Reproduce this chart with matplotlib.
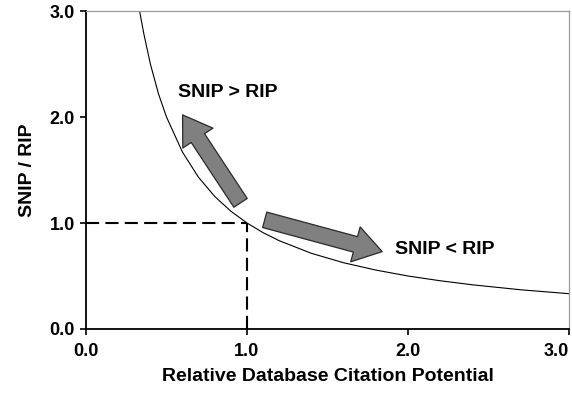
import matplotlib.pyplot as plt
from matplotlib.patches import FancyArrowPatch

plt.rcParams['font.family'] = ['Liberation Sans', 'DejaVu Sans']

# curve values (SNIP / RIP vs. citation potential)
curve_x = [0.333, 0.36, 0.4, 0.45, 0.5, 0.6, 0.7, 0.8, 0.9, 1.0, 1.1, 1.2, 1.4, 1.6, 1.8, 2.0, 2.2, 2.4, 2.7, 3.0]
curve_y = [3.0, 2.78, 2.5, 2.22, 2.0, 1.667, 1.429, 1.25, 1.111, 1.0, 0.909, 0.833, 0.714, 0.625, 0.556, 0.5, 0.455, 0.417, 0.37, 0.333]

ticks = [0.0, 1.0, 2.0, 3.0]
tick_labels = ['0.0', '1.0', '2.0', '3.0']

# arrows: (tail, tip) in data units
arrows = [((0.96, 1.19), (0.60, 2.02)), ((1.11, 1.03), (1.84, 0.73))]

fig = plt.figure(figsize=(5.72, 3.96), dpi=100)
ax = fig.add_axes([0.1503, 0.1692, 0.8445, 0.803])

ax.plot(curve_x, curve_y, color='black', lw=0.8)

# dashed reference lines at (1, 1)
ax.plot([0, 1], [1, 1], color='black', lw=1.5, dashes=(6.3, 3))
ax.plot([1, 1], [0, 1], color='black', lw=1.5, dashes=(6.3, 3))

# block arrows
arrow_style = 'simple,head_length=2.0,head_width=2.6,tail_width=1.15'
for start, end in arrows:
    arr = FancyArrowPatch(start, end, arrowstyle=arrow_style, mutation_scale=10,
                          facecolor='#808080', edgecolor='#2a2a2a', lw=0.9,
                          shrinkA=0, shrinkB=0)
    ax.add_patch(arr)

ax.text(0.88, 2.23, 'SNIP > RIP', fontsize=14, fontweight='bold', ha='center', va='center')
ax.text(1.92, 0.75, 'SNIP < RIP', fontsize=14, fontweight='bold', ha='left', va='center')

ax.set_xlim(0, 3)
ax.set_ylim(0, 3)
ax.set_xticks(ticks)
ax.set_xticklabels(tick_labels, fontsize=13, fontweight='bold')
ax.set_yticks(ticks)
ax.set_yticklabels(tick_labels, fontsize=13, fontweight='bold')
ax.tick_params(direction='out', length=4, width=1.2)
ax.tick_params(axis='x', pad=6)
ax.tick_params(axis='y', pad=4)
ax.get_xticklabels()[-1].set_horizontalalignment('right')

for s in ['left', 'bottom']:
    ax.spines[s].set_linewidth(1.3)
for s in ['top', 'right']:
    ax.spines[s].set_color('#999999')
    ax.spines[s].set_linewidth(0.9)

ax.set_xlabel('Relative Database Citation Potential', fontsize=14, fontweight='bold', labelpad=6)
ax.set_ylabel('SNIP / RIP', fontsize=14, fontweight='bold', labelpad=10)

fig.savefig('out.png', dpi=100)
